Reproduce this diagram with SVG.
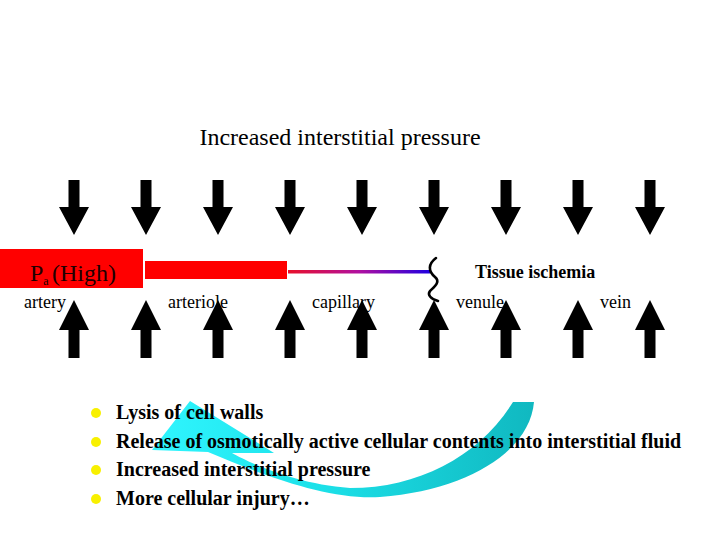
<svg xmlns="http://www.w3.org/2000/svg" width="720" height="540" viewBox="0 0 720 540">
  <defs>
    <linearGradient id="cap" x1="288" y1="0" x2="430" y2="0" gradientUnits="userSpaceOnUse">
      <stop offset="0" stop-color="#e8102a"/>
      <stop offset="0.5" stop-color="#b010a0"/>
      <stop offset="1" stop-color="#2000e0"/>
    </linearGradient>
    <linearGradient id="cyan" x1="150" y1="0" x2="535" y2="0" gradientUnits="userSpaceOnUse">
      <stop offset="0" stop-color="#30f6ff"/>
      <stop offset="0.45" stop-color="#1ce0e8"/>
      <stop offset="1" stop-color="#10b8c0"/>
    </linearGradient>
    <path id="down" d="M-5.5 0 H5.5 V27 H15 L0 55 L-15 27 H-5.5 Z"/>
    <path id="up" d="M-5.5 58 H5.5 V30 H15 L0 0 L-15 30 H-5.5 Z"/>
  </defs>
  <style>
    .lbl { font-family: "Liberation Serif", "Times New Roman", serif; font-size: 18px; fill: #000; }
    .bul { font-family: "Liberation Serif", "Times New Roman", serif; font-size: 20px; font-weight: bold; fill: #000; }
    .dot { fill: #f8f000; }
    .arr { fill: #000; }
  </style>
  <rect width="720" height="540" fill="#fff"/>

  <text x="340" y="145" text-anchor="middle" font-family="Liberation Serif, Times New Roman, serif" font-size="24" fill="#000">Increased interstitial pressure</text>

  <g id="down-arrows" class="arr">
    <use href="#down" x="74" y="180"/>
    <use href="#down" x="146" y="180"/>
    <use href="#down" x="218" y="180"/>
    <use href="#down" x="290" y="180"/>
    <use href="#down" x="362" y="180"/>
    <use href="#down" x="434" y="180"/>
    <use href="#down" x="506" y="180"/>
    <use href="#down" x="578" y="180"/>
    <use href="#down" x="650" y="180"/>
  </g>

  <g id="up-arrows" class="arr">
    <use href="#up" x="74" y="300"/>
    <use href="#up" x="146" y="300"/>
    <use href="#up" x="218" y="300"/>
    <use href="#up" x="290" y="300"/>
    <use href="#up" x="362" y="300"/>
    <use href="#up" x="434" y="300"/>
    <use href="#up" x="506" y="300"/>
    <use href="#up" x="578" y="300"/>
    <use href="#up" x="650" y="300"/>
  </g>

  <g id="artery-box">
    <rect x="0" y="249" width="143" height="39" fill="#ff0000"/>
    <text font-family="Liberation Serif, Times New Roman, serif" font-size="24" fill="#200000"><tspan x="30" y="281">P</tspan><tspan font-size="12" y="285">a</tspan><tspan font-size="24" x="52" y="281">(High)</tspan></text>
  </g>
  <rect id="arteriole-bar" x="145" y="261" width="142" height="18" fill="#ff0000"/>
  <rect id="capillary-line" x="288" y="270" width="142" height="3.5" fill="url(#cap)"/>
  <path id="squiggle" d="M436 258 C 428 264, 428 271, 435 277 C 441 282, 434 287, 430 291 C 427 295, 431 299, 438 301" fill="none" stroke="#000" stroke-width="2.6" stroke-linecap="round"/>

  <text id="tissue" x="475" y="278" font-family="Liberation Serif, Times New Roman, serif" font-size="18" font-weight="bold" fill="#000">Tissue ischemia</text>

  <g id="labels">
    <text class="lbl" x="24" y="308">artery</text>
    <text class="lbl" x="168" y="308">arteriole</text>
    <text class="lbl" x="312" y="308">capillary</text>
    <text class="lbl" x="456" y="308">venule</text>
    <text class="lbl" x="600" y="308">vein</text>
  </g>

  <g id="connectors">
    <path d="M190 401 L274 453 L232 453 C 250 463, 295 484, 350 488 C 420 488, 480 455, 513 402 L534 402 C 530 450, 470 490, 380 497 C 330 500, 270 478, 208 452 L152 450 Z" fill="url(#cyan)"/>
  </g>

  <g id="bullets">
    <circle class="dot" cx="96" cy="413" r="5"/>
    <circle class="dot" cx="96" cy="442" r="5"/>
    <circle class="dot" cx="96" cy="470" r="5"/>
    <circle class="dot" cx="96" cy="499" r="5"/>
    <text class="bul" x="116" y="419">Lysis of cell walls</text>
    <text class="bul" x="116" y="448">Release of osmotically active cellular contents into interstitial fluid</text>
    <text class="bul" x="116" y="476">Increased interstitial pressure</text>
    <text class="bul" x="116" y="505">More cellular injury…</text>
  </g>
</svg>
